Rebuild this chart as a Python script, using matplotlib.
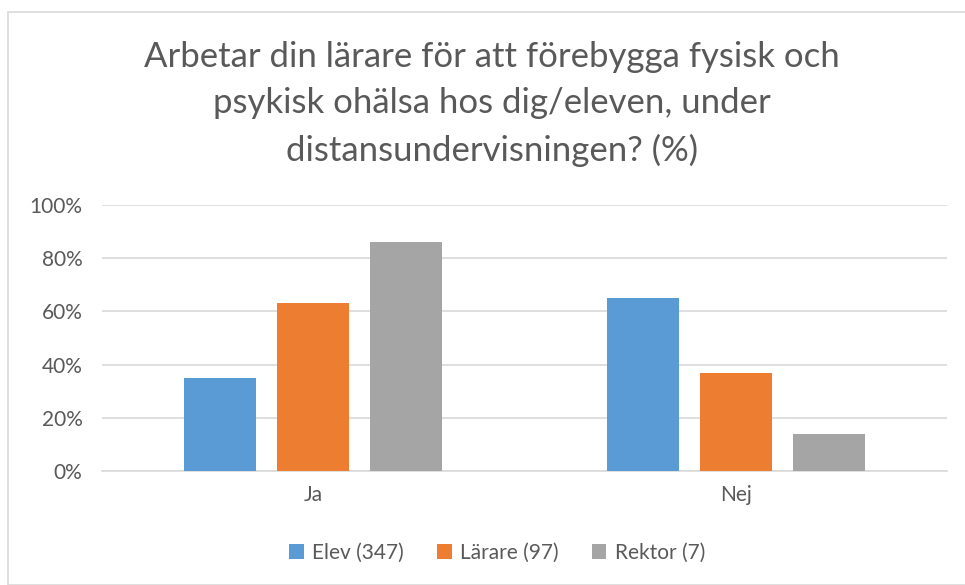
import numpy as np
import matplotlib
matplotlib.use('Agg')
import matplotlib.pyplot as plt
from matplotlib.patches import Rectangle
from matplotlib.ticker import PercentFormatter

# Data (share of answers, %)
categories = ['Ja', 'Nej']
series_names = ['Elev (347)', 'Lärare (97)', 'Rektor (7)']
elev = [35, 65]
larare = [63, 37]
rektor = [86, 14]
colors = ['#5B9BD5', '#ED7D31', '#A5A5A5']

plt.rcParams['font.family'] = ['Lato', 'DejaVu Sans']
text_color = '#595959'

fig = plt.figure(figsize=(9.65, 5.85), dpi=100)
# light chart border like the Excel chart area
fig.patches.append(Rectangle((8 / 965, 0), 1.0, 1 - 12 / 585, transform=fig.transFigure,
                             fill=False, edgecolor='#d9d9d9', linewidth=1.2))

ax = fig.add_axes([102 / 965, 1 - 471 / 585, 845 / 965, 266 / 585])

x = np.arange(len(categories))
width = 0.17
step = 0.22
for i, (vals, name) in enumerate(zip([elev, larare, rektor], series_names)):
    ax.bar(x + (i - 1) * step, vals, width, color=colors[i], label=name, zorder=3)

ax.set_xlim(-0.5, 1.5)
ax.set_ylim(0, 100)
ax.set_yticks(np.arange(0, 101, 20))
ax.yaxis.set_major_formatter(PercentFormatter(decimals=0))
ax.set_xticks(x)
ax.set_xticklabels(categories)
ax.grid(axis='y', color='#d9d9d9', linewidth=1.2, zorder=0)
for s in ['top', 'right', 'left']:
    ax.spines[s].set_visible(False)
ax.spines['bottom'].set_color('#d9d9d9')
ax.spines['bottom'].set_linewidth(1.2)
ax.tick_params(axis='both', length=0, colors=text_color, labelsize=15)
ax.tick_params(axis='y', pad=14)
ax.tick_params(axis='x', pad=10)

fig.text(0.51, 1 - 104 / 585, 'Arbetar din lärare för att förebygga fysisk och\n'
         'psykisk ohälsa hos dig/eleven, under\n'
         'distansundervisningen? (%)',
         ha='center', va='center', fontsize=25, color=text_color, linespacing=1.55)

fig.legend(loc='center', bbox_to_anchor=(497 / 965, 1 - 553 / 585), ncol=3, frameon=False,
           fontsize=15, labelcolor=text_color, handlelength=0.7, handleheight=0.7,
           handletextpad=0.4, columnspacing=1.6)

fig.savefig('out.png', dpi=100)
